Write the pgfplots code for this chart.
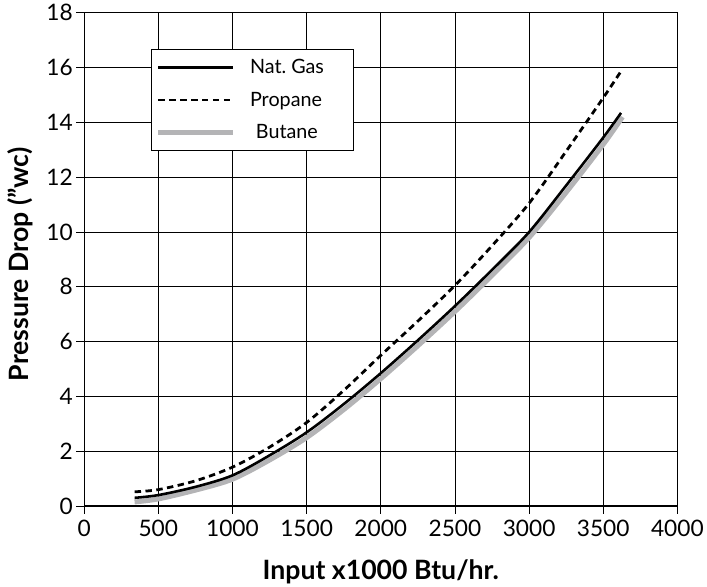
\documentclass[border=0pt]{standalone}
\usepackage{fontspec}
\setmainfont{Lato}
\usepackage{pgfplots}
\pgfplotsset{compat=1.18}

\definecolor{butanegray}{HTML}{B4B4B6}

\pgfplotstableread{
x     y
340   0.30
500   0.40
750   0.70
1000  1.12
1250  1.85
1500  2.69
1750  3.72
2000  4.85
2250  6.05
2500  7.30
2750  8.62
3000  10.00
3250  11.70
3500  13.45
3620  14.35
}\natgas

\pgfplotstableread{
x     y
340   0.52
500   0.60
750   0.92
1000  1.42
1250  2.15
1500  3.05
1750  4.22
2000  5.50
2250  6.75
2500  8.05
2750  9.50
3000  11.05
3250  12.95
3500  14.90
3630  15.95
}\propane

\pgfplotstableread{
x     y
340   0.15
500   0.26
750   0.58
1000  0.98
1250  1.68
1500  2.50
1750  3.52
2000  4.65
2250  5.85
2500  7.10
2750  8.42
3000  9.80
3250  11.45
3500  13.20
3630  14.20
}\butane

\begin{document}
\begin{tikzpicture}
\begin{axis}[
  scale only axis,
  width=599bp, height=498bp,
  xmin=0, xmax=4000, ymin=0, ymax=18,
  xtick={0,500,...,4000},
  ytick={0,2,...,18},
  tick pos=left,
  tick align=outside,
  major tick length=8bp,
  axis line style={line width=1.2pt},
  grid=major,
  major grid style={black, line width=0.8pt},
  tick style={black, line width=0.8pt},
  /pgf/number format/assume math mode=true,
  /pgf/number format/1000 sep={},
  tick label style={font=\fontsize{23}{27}\selectfont},
  xticklabel style={yshift=-3bp},
  label style={font=\bfseries\fontsize{27}{31}\selectfont},
  xlabel={Input x1000 Btu/hr.},
  ylabel={Pressure Drop (\symbol{34}wc)},
  xlabel style={at={(axis description cs:0.5,-0.1325)}, anchor=center},
  ylabel style={at={(axis description cs:-0.107,0.49)}, anchor=center},
  legend image code/.code={\draw[#1] (0bp,0bp) -- (75bp,0bp);},
  legend cell align=left,
  legend style={
    at={(axis description cs:0.112,0.926)}, anchor=north west,
    draw=black, line width=0.8pt, fill=white,
    font=\fontsize{20}{24}\selectfont,
    inner xsep=5bp, inner ysep=8bp,
    row sep=13bp, column sep=10bp,
    nodes={inner xsep=5bp},
  },
]
\addplot[butanegray, line width=5bp, smooth, forget plot] table {\butane};
\addplot[black, line width=2.6bp, smooth] table {\natgas};
\addlegendentry{\makebox[94bp][l]{Nat.\ Gas}}
\addplot[black, line width=2.8bp, smooth, dash pattern=on 6.5bp off 4.5bp] table {\propane};
\addlegendentry{\makebox[94bp][l]{Propane}}
\addlegendimage{butanegray, line width=5bp}
\addlegendentry{\makebox[94bp][l]{\hspace{6bp}Butane}}
\end{axis}
\useasboundingbox (current axis.south west) ++(-85bp,-79bp) rectangle ++(707bp,590bp);
\end{tikzpicture}
\end{document}
